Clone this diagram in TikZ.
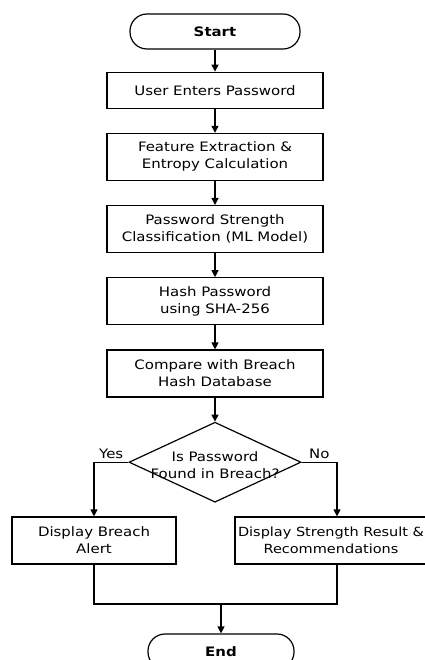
\documentclass[tikz,border=0pt]{standalone}
\usepackage{fontspec}
\setmainfont{DejaVu Sans}[FakeStretch=1.15]
\usetikzlibrary{positioning,arrows.meta,shapes.geometric}
\newcommand{\flowsize}{\fontsize{13}{17}\selectfont}
\tikzset{
  >={Triangle[length=7pt,width=7pt]},
  my box/.style={
    draw,
    rectangle,
    minimum width=216pt,
    minimum height=47pt,
    align=center,
    inner sep=2pt
  },
  my term/.style={
    draw,
    rectangle,
    rounded corners=17pt,
    minimum width=170pt,
    minimum height=35pt,
    font=\flowsize\bfseries
  },
  my decision/.style={
    draw,
    diamond,
    inner sep=0pt,
    minimum width=172pt,
    minimum height=80pt
  },
  my flow/.style={
    x=1pt,y=-1pt,
    line width=1.2pt,
    node distance=24pt,
    font=\flowsize
  }
}

\begin{document}
\begin{tikzpicture}[my flow]
\useasboundingbox (0,0) rectangle (424,660);
\node[my term]                  (start)   at (215,31.5) {Start};
\node[my box,minimum height=36pt,below=22pt of start] (enter) {User Enters Password};
\node[my box,below=of enter]    (feat)    {Feature Extraction \&\\Entropy Calculation};
\node[my box,below=of feat]     (class)   {Password Strength\\Classification (ML Model)};
\node[my box,below=of class]    (hash)    {Hash Password\\using SHA-256};
\node[my box,below=of hash]     (comp)    {Compare with Breach\\Hash Database};
\node[my decision,below=of comp] (found)  {};
\node[align=center]             (foundtx) at ([yshift=-3pt]found.center) {Is Password\\Found in Breach?};
\node[my box,minimum width=164pt] (alert)  at (94,540.5)  {Display Breach\\Alert};
\node[my box,minimum width=204pt] (result) at (337,540.5) {};
\node[align=center,font=\fontsize{12.6}{17}\selectfont] (resulttx) at (331,540.5)
  {Display Strength Result \&\\Recommendations};
\node[my term,minimum width=146pt] (end)   at (221,651.5) {End};
\coordinate (join) at (221,604);
\path[->] (start) edge (enter)
          (enter) edge (feat)
          (feat)  edge (class)
          (class) edge (hash)
          (hash)  edge (comp)
          (comp)  edge (found);
\draw[->] (found.west) -| node[pos=0.25,above] {Yes} (alert.north);
\draw[->] (found.east) -| node[pos=0.25,above] {No}  (result.north);
\draw (alert.south) |- (join) -| (result.south);
\draw[->] (join) -- (end);
\end{tikzpicture}
\end{document}
